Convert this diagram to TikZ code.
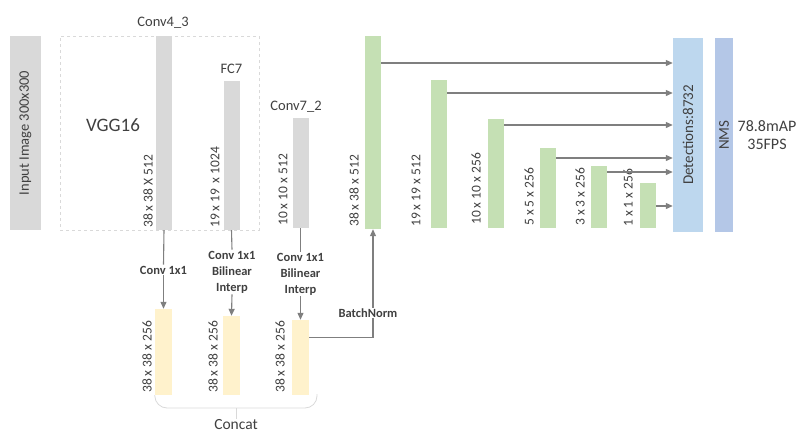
\documentclass[tikz,border=0pt]{standalone}
\usepackage{fontspec}
\setmainfont{Carlito}
\usetikzlibrary{arrows.meta,calc}
\definecolor{txt}{HTML}{404040}
\definecolor{greybar}{HTML}{D9D9D9}
\definecolor{yel}{HTML}{FFF2CC}
\definecolor{grn}{HTML}{C5E0B4}
\definecolor{detc}{HTML}{BDD7EE}
\definecolor{nmsc}{HTML}{B4C7E7}
\definecolor{lnc}{HTML}{7F7F7F}
\tikzset{
  bar/.style={draw=none,inner sep=0pt,minimum width=#1},
  bar/.default=16pt,
  dimlbl/.style={rotate=90,anchor=west,inner sep=0pt,text=txt,font=\fontsize{13.5}{14}\selectfont},
  lbl/.style={inner sep=1pt,text=txt,font=\fontsize{14.5}{15}\selectfont},
  oplbl/.style={inner sep=1pt,text=txt,align=center,font=\bfseries\fontsize{12.5}{16}\selectfont},
  conn/.style={draw=lnc,line width=1.1pt},
  arr/.style={draw=lnc,line width=1.1pt,-{Triangle[length=7pt,width=6pt]}}
}
\begin{document}
\begin{tikzpicture}[x=1pt,y=-1pt]
\useasboundingbox (0,0) rectangle (807,442);
% input
\node[bar=31pt,fill=greybar,minimum height=194pt] (inp) at (25.5,133) {};
\node[lbl,rotate=90,font=\fontsize{14.5}{15}\selectfont] (inptxt) at (inp.center) {Input Image 300x300};
% VGG dashed box
\node[draw=greybar,dashed,line width=0.6pt,inner sep=0pt,minimum width=199pt,minimum height=194pt] (vgg) at (159.5,133) {};
\node[lbl,font=\fontsize{19}{20}\selectfont] (vggtxt) at (113,125) {VGG16};
% grey feature bars
\node[bar,fill=greybar,minimum height=194pt] (c43) at (164,133) {};
\node[lbl,anchor=south] (c43t) at (163,30) {Conv4\_3};
\node[bar,fill=greybar,minimum height=149pt] (fc7) at (231.5,155.5) {};
\node[lbl,anchor=south] (fc7t) at (231.5,75) {FC7};
\node[bar,fill=greybar,minimum height=110pt] (c72) at (300.5,173) {};
\node[lbl,anchor=south] (c72t) at (296,114) {Conv7\_2};
\node[dimlbl] (d1) at (148,228) {38 x 38 X 512};
\node[dimlbl] (d2) at (215,228) {19 x 19 \,x 1024};
\node[dimlbl] (d3) at (283,226) {10 x 10 x 512};
% yellow bars
\node[bar=17pt,fill=yel,minimum height=86pt] (y1) at (163.5,352) {};
\node[bar=17pt,fill=yel,minimum height=79pt] (y2) at (231.5,355.5) {};
\node[bar=17pt,fill=yel,minimum height=75pt] (y3) at (300.5,357.5) {};
\node[dimlbl] (e1) at (147,393) {38 x 38 x 256};
\node[dimlbl] (e2) at (213,393) {38 x 38 x 256};
\node[dimlbl] (e3) at (280,393) {38 x 38 x 256};
% op labels
\node[oplbl] (o1) at (163.5,270) {Conv 1x1};
\node[oplbl] (o2) at (232,272) {Conv 1x1\\Bilinear\\Interp};
\node[oplbl] (o3) at (300.5,274) {Conv 1x1\\Bilinear\\Interp};
\draw[conn] (c43.south) -- (o1.north);
\draw[arr] (o1.south) -- (y1.north);
\draw[conn] (fc7.south) -- (o2.north);
\draw[arr] (o2.south) -- (y2.north);
\draw[conn] (c72.south) -- (o3.north);
\draw[arr] (o3.south) -- (y3.north);
% concat bracket
\draw[draw=greybar,line width=0.8pt,rounded corners=12pt] (y1.south west) -- (155,408) -- (317,408) -- (317,394);
\coordinate (cmid) at (236,408);
\node[lbl,font=\fontsize{15.5}{16}\selectfont] (cc) at (236,425) {Concat};
\draw[draw=greybar,line width=0.8pt] (cmid) -- (cc.north);
% green bars
\node[bar,fill=grn,minimum height=193pt] (g1) at (373,132.5) {};
\node[bar,fill=grn,minimum height=148pt] (g2) at (439,154) {};
\node[bar,fill=grn,minimum height=109pt] (g3) at (496,173.5) {};
\node[bar,fill=grn,minimum height=80pt] (g4) at (548,188) {};
\node[bar,fill=grn,minimum height=62pt] (g5) at (599,197) {};
\node[bar,fill=grn,minimum height=45pt] (g6) at (648,205.5) {};
\node[dimlbl] (f1) at (354,227) {38 x 38 x 512};
\node[dimlbl] (f2) at (416,227) {19 x 19 x 512};
\node[dimlbl] (f3) at (476,225) {10 x 10 x 256};
\node[dimlbl] (f4) at (529,226) {5 x 5 x 256};
\node[dimlbl] (f5) at (580,226) {3 x 3 x 256};
\node[dimlbl] (f6) at (628,227) {1 x 1 x 256};
% batchnorm connector
\coordinate (bn0) at ($(y3.north east)+(0,18)$);
\draw[arr] (bn0) -| (g1.south);
\node[oplbl,fill=white,inner sep=1pt] (bn) at (368,313) {BatchNorm};
% detections and NMS
\node[bar=30pt,fill=detc,minimum height=194pt] (det) at (688,135) {};
\node[lbl,rotate=90,font=\fontsize{15}{16}\selectfont] (dett) at (det.center) {Detections:8732};
\node[bar=18pt,fill=nmsc,minimum height=194pt] (nms) at (724,135) {};
\node[lbl,rotate=90,font=\fontsize{15}{16}\selectfont] (nmst) at (nms.center) {NMS};
\node[lbl,align=center,font=\fontsize{16}{18}\selectfont] (res) at (767,135) {78.8mAP\\35FPS};
% arrows to detections
\draw[arr] (g1.east |- 0,63) -- (det.west |- 0,63);
\draw[arr] (g2.east |- 0,93) -- (det.west |- 0,93);
\draw[arr] (g3.east |- 0,125) -- (det.west |- 0,125);
\draw[arr] (g4.east |- 0,158) -- (det.west |- 0,158);
\draw[arr] (g5.east |- 0,172) -- (det.west |- 0,172);
\draw[arr] (g6.east |- 0,206) -- (det.west |- 0,206);
\end{tikzpicture}
\end{document}
